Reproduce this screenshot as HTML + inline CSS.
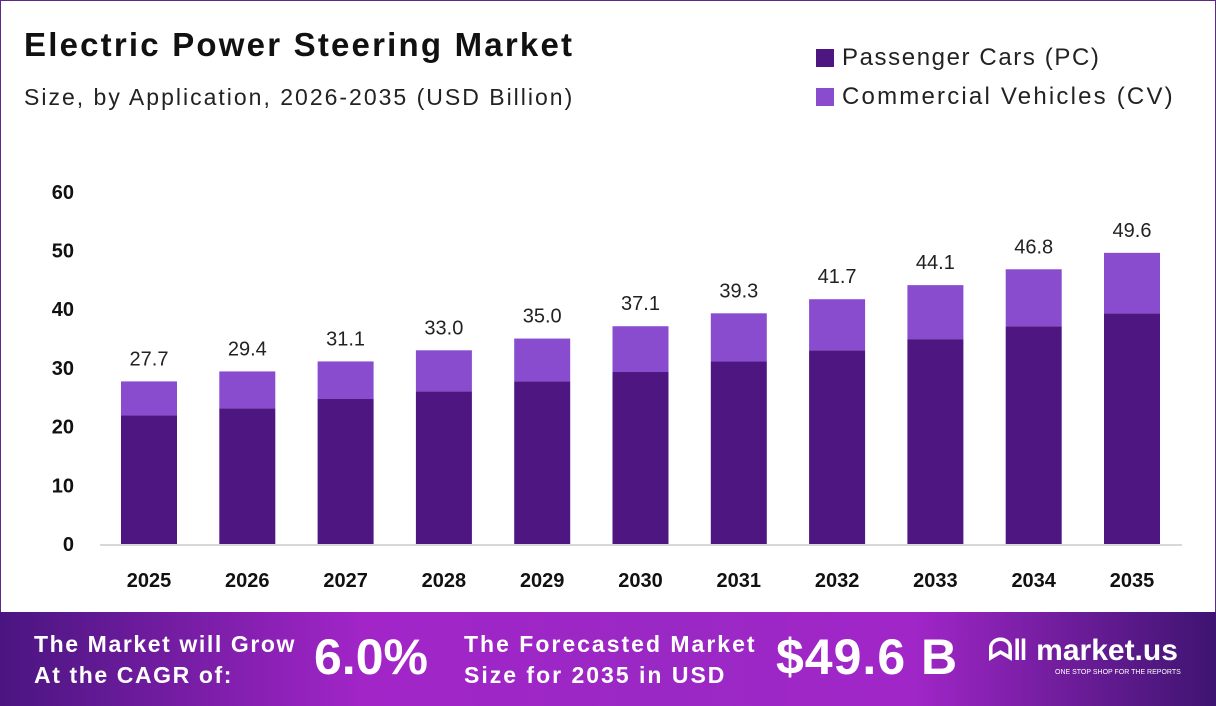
<!DOCTYPE html>
<html><head><meta charset="utf-8"><style>
body{margin:0;width:1216px;height:706px;overflow:hidden;background:#fff;font-family:"Liberation Sans",sans-serif}
#frame{position:absolute;left:0;top:0;width:1214px;height:704px;border:1px solid #5b2a86}
.t{position:absolute;white-space:nowrap}
</style></head><body>
<div id="frame"></div>
<div class="t" style="left:24px;top:26px;font-size:33px;font-weight:bold;color:#111;letter-spacing:2.2px">Electric Power Steering Market</div>
<div class="t" style="left:24px;top:84px;font-size:23px;color:#222;letter-spacing:2px">Size, by Application, 2026-2035 (USD Billion)</div>
<div class="t" style="left:816px;top:44px;font-size:24px;color:#222;letter-spacing:1.6px"><span style="display:inline-block;width:18px;height:18px;background:#4e1680;vertical-align:-2px;margin-right:8px"></span>Passenger Cars (PC)</div>
<div class="t" style="left:816px;top:83px;font-size:24px;color:#222;letter-spacing:2.2px"><span style="display:inline-block;width:18px;height:18px;background:#8a4ccf;vertical-align:-2px;margin-right:8px"></span>Commercial Vehicles (CV)</div>
<svg id="chart" width="1216" height="612" style="position:absolute;left:0;top:0"></svg>
<div style="position:absolute;left:0;top:612px;width:1216px;height:94px;background:linear-gradient(90deg,#4a1580 0%,#a225c8 30%,#9a28c4 55%,#a126c8 75%,#3e1470 100%)">
<div class="t" style="left:34px;top:17px;font-size:23px;font-weight:bold;color:#fff;line-height:31px;letter-spacing:1.6px">The Market will Grow<br>At the CAGR of:</div>
<div class="t" style="left:314px;top:16px;font-size:50px;font-weight:bold;color:#fff">6.0%</div>
<div class="t" style="left:464px;top:17px;font-size:23px;font-weight:bold;color:#fff;line-height:31px;letter-spacing:2px">The Forecasted Market<br>Size for 2035 in USD</div>
<div class="t" style="left:776px;top:16px;font-size:50px;font-weight:bold;color:#fff;letter-spacing:1px">$49.6 B</div>
<div class="t" style="left:988px;top:22px;font-size:30px;font-weight:bold;color:#fff">ᗣ‖ market.us</div>
<div class="t" style="left:1055px;top:57px;font-size:7px;color:#fff">ONE STOP SHOP FOR THE REPORTS</div>
</div>
<script>
const years=["2025","2026","2027","2028","2029","2030","2031","2032","2033","2034","2035"];
const pc=[21.9,23.1,24.7,26.0,27.7,29.3,31.1,33.0,34.9,37.1,39.3];
const totals=[27.7,29.4,31.1,33.0,35.0,37.1,39.3,41.7,44.1,46.8,49.6];
const ticks=[0,10,20,30,40,50,60];
const svg=document.getElementById('chart');const NS='http://www.w3.org/2000/svg';
const y0=544,ppu=5.87;const yS=v=>y0-v*ppu;
const xS=i=>149+i*98.3;const bw=56;
function mk(t,a){const e=document.createElementNS(NS,t);for(const k in a)e.setAttribute(k,a[k]);svg.appendChild(e);return e;}
ticks.forEach(t=>{const e=mk('text',{x:74,y:yS(t)+7,'text-anchor':'end','font-size':20,'font-weight':'bold',fill:'#111','font-family':'Liberation Sans'});e.textContent=t;

});
const ax=mk('line',{x1:100,x2:1182,y1:y0+1,y2:y0+1,stroke:'#ccc','stroke-width':1.5});


years.forEach((yr,i)=>{
const x=xS(i)-bw/2;
const b1=mk('rect',{x:x,y:yS(pc[i]),width:bw,height:pc[i]*ppu,fill:'#4e1680'});


const cv=totals[i]-pc[i];
const b2=mk('rect',{x:x,y:yS(totals[i]),width:bw,height:cv*ppu,fill:'#8a4ccf'});


const l=mk('text',{x:xS(i),y:yS(totals[i])-16,'text-anchor':'middle','font-size':20,fill:'#222','font-family':'Liberation Sans'});l.textContent=totals[i].toFixed(1);


const xt=mk('text',{x:xS(i),y:587,'text-anchor':'middle','font-size':20,'font-weight':'bold',fill:'#111','font-family':'Liberation Sans'});xt.textContent=yr;


});
</script>
</body></html>
